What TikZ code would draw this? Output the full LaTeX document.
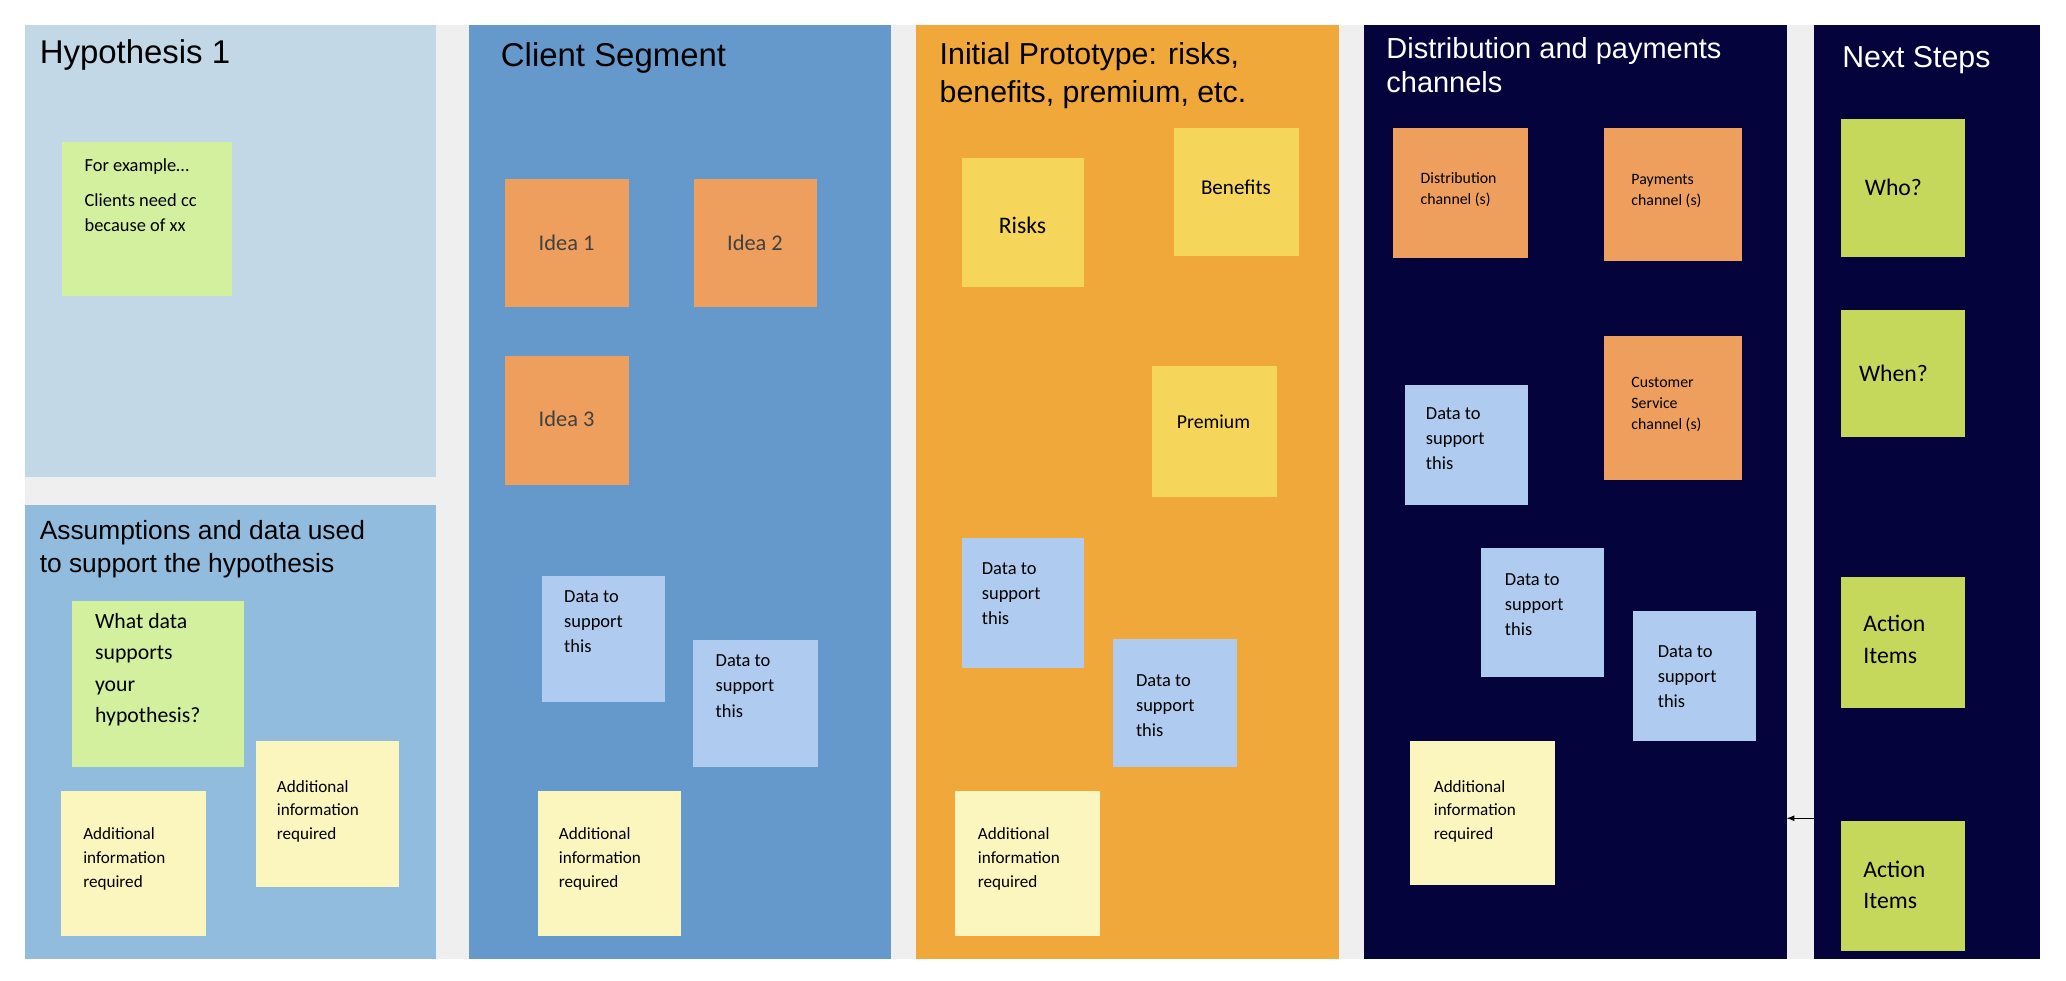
\documentclass[tikz,border=0pt]{standalone}
\usepackage{fontspec}
\setmainfont{Liberation Sans}
\newfontfamily\calib{Carlito}
\begin{document}
\begin{tikzpicture}[x=1pt,y=-1pt,
 ttl/.style={anchor=north west,align=left,text=black,font=\fontsize{25}{29}\selectfont,inner sep=0pt},
 ttlw/.style={ttl,text=white},
 st/.style={anchor=north west,inner sep=0pt,font=\calib\fontsize{14}{19}\selectfont,align=left},
 ]
\definecolor{hA}{HTML}{C3D8E7}
\definecolor{hB}{HTML}{92BCDD}
\definecolor{cs}{HTML}{6699CB}
\definecolor{ip}{HTML}{F0A83A}
\definecolor{nv}{HTML}{04033C}
\definecolor{gg}{HTML}{D3F09E}
\definecolor{yy}{HTML}{FBF5BE}
\definecolor{oo}{HTML}{EE9F5E}
\definecolor{bb}{HTML}{AFCBEF}
\definecolor{ry}{HTML}{F5D65A}
\definecolor{lg}{HTML}{C6D85C}
\definecolor{gap}{HTML}{EFEFEF}
\useasboundingbox (0,0) rectangle (1568,744);
\fill[white] (0,0) rectangle (1568,744);
\fill[gap] (19,19) rectangle (1548,728);
\fill[hA] (19,19) rectangle (331,362);
\fill[hB] (19,383) rectangle (331,728);
\fill[cs] (356,19) rectangle (676,728);
\fill[ip] (695,19) rectangle (1016,728);
\fill[nv] (1035,19) rectangle (1356,728);
\fill[nv] (1377,19) rectangle (1548,728);
\node[ttl] (t1) at (30,30) {Hypothesis 1};
\node[ttl,font=\fontsize{20}{25}\selectfont] (t2) at (30,395) {Assumptions and data used\\to support the hypothesis};
\node[ttl] (t3) at (380,32) {Client Segment};
\node[ttl,font=\fontsize{23}{29}\selectfont] (t4) at (713,32) {Initial Prototype: risks,\\benefits, premium, etc.};
\node[ttlw,font=\fontsize{22}{26}\selectfont] (t5) at (1052,28) {Distribution and payments\\channels};
\node[ttlw,font=\fontsize{23}{27}\selectfont] (t6) at (1398,35) {Next Steps};
\newcommand\stk[6]{\fill[#1] (#2,#3) rectangle (#4,#5); \path (#2,#3) coordinate (#6);}
% Hypothesis
\stk{gg}{47}{108}{176}{225}{s1}
\node[st] (n1) at (64,120) {For example…\\[8pt]Clients need cc\\because of xx};
\stk{gg}{55}{456}{185}{582}{s2}
\node[st,font=\calib\fontsize{16.5}{24}\selectfont] (n2) at (72,465) {What data\\supports\\your\\hypothesis?};
\stk{yy}{194}{562}{303}{673}{s3}
\node[st,font=\calib\fontsize{13}{18}\selectfont] (n3) at (210,592) {Additional\\information\\required};
\stk{yy}{46}{600}{156}{710}{s4}
\node[st,font=\calib\fontsize{13}{18}\selectfont] (n4) at (63,628) {Additional\\information\\required};
% Client
\stk{oo}{383}{136}{477}{233}{s5}
\node[font=\calib\fontsize{17}{20}\selectfont,text=black!75] (n5) at (430,184) {Idea 1};
\stk{oo}{527}{136}{620}{233}{s6}
\node[font=\calib\fontsize{17}{20}\selectfont,text=black!75] (n6) at (573,184) {Idea 2};
\stk{oo}{383}{270}{477}{368}{s7}
\node[font=\calib\fontsize{17}{20}\selectfont,text=black!75] (n7) at (430,318) {Idea 3};
\stk{bb}{411}{437}{505}{533}{s8}
\node[st] (n8) at (428,448) {Data to\\support\\this};
\stk{bb}{526}{486}{621}{582}{s9}
\node[st] (n9) at (543,497) {Data to\\support\\this};
\stk{yy}{408}{600}{517}{710}{s10}
\node[st,font=\calib\fontsize{13}{18}\selectfont] (n10) at (424,628) {Additional\\information\\required};
% Prototype
\stk{ry}{730}{120}{823}{218}{s11}
\node[font=\calib\fontsize{18}{20}\selectfont] (n11) at (776,171) {Risks};
\stk{ry}{891}{97}{986}{194}{s12}
\node[font=\calib\fontsize{16}{20}\selectfont] (n12) at (938,142) {Benefits};
\stk{ry}{874}{278}{969}{377}{s13}
\node[font=\calib\fontsize{15}{20}\selectfont] (n13) at (921,320) {Premium};
\stk{bb}{730}{408}{823}{507}{s14}
\node[st] (n14) at (745,427) {Data to\\support\\this};
\stk{bb}{845}{485}{939}{582}{s15}
\node[st] (n15) at (862,512) {Data to\\support\\this};
\stk{yy}{725}{600}{835}{710}{s16}
\node[st,font=\calib\fontsize{13}{18}\selectfont] (n16) at (742,628) {Additional\\information\\required};
% Distribution
\stk{oo}{1057}{97}{1160}{196}{s17}
\node[st,font=\calib\fontsize{12}{16}\selectfont] (n17) at (1078,131) {Distribution\\channel (s)};
\stk{oo}{1217}{97}{1322}{198}{s18}
\node[st,font=\calib\fontsize{12}{16}\selectfont] (n18) at (1238,132) {Payments\\channel (s)};
\stk{oo}{1217}{255}{1322}{364}{s19}
\node[st,font=\calib\fontsize{12}{16}\selectfont] (n19) at (1238,286) {Customer\\Service\\channel (s)};
\stk{bb}{1066}{292}{1160}{383}{s20}
\node[st] (n20) at (1082,309) {Data to\\support\\this};
\stk{bb}{1124}{416}{1217}{514}{s21}
\node[st] (n21) at (1142,435) {Data to\\support\\this};
\stk{bb}{1239}{464}{1333}{562}{s22}
\node[st] (n22) at (1258,490) {Data to\\support\\this};
\stk{yy}{1070}{562}{1180}{672}{s23}
\node[st,font=\calib\fontsize{13}{18}\selectfont] (n23) at (1088,592) {Additional\\information\\required};
% Next steps
\stk{lg}{1397}{90}{1491}{195}{s24}
\node[font=\calib\fontsize{18}{20}\selectfont] (n24) at (1437,142) {Who?};
\stk{lg}{1397}{235}{1491}{332}{s25}
\node[font=\calib\fontsize{18}{20}\selectfont] (n25) at (1437,283) {When?};
\stk{lg}{1397}{438}{1491}{537}{s26}
\node[st,font=\calib\fontsize{18}{24}\selectfont] (n26) at (1414,467) {Action\\Items};
\stk{lg}{1397}{623}{1491}{722}{s27}
\node[st,font=\calib\fontsize{18}{24}\selectfont] (n27) at (1414,653) {Action\\Items};
\coordinate (a1) at (1377,621);
\coordinate (a2) at (1356,621);
\draw[-latex,black,line width=1pt] (a1) -- (a2);
\end{tikzpicture}
\end{document}
